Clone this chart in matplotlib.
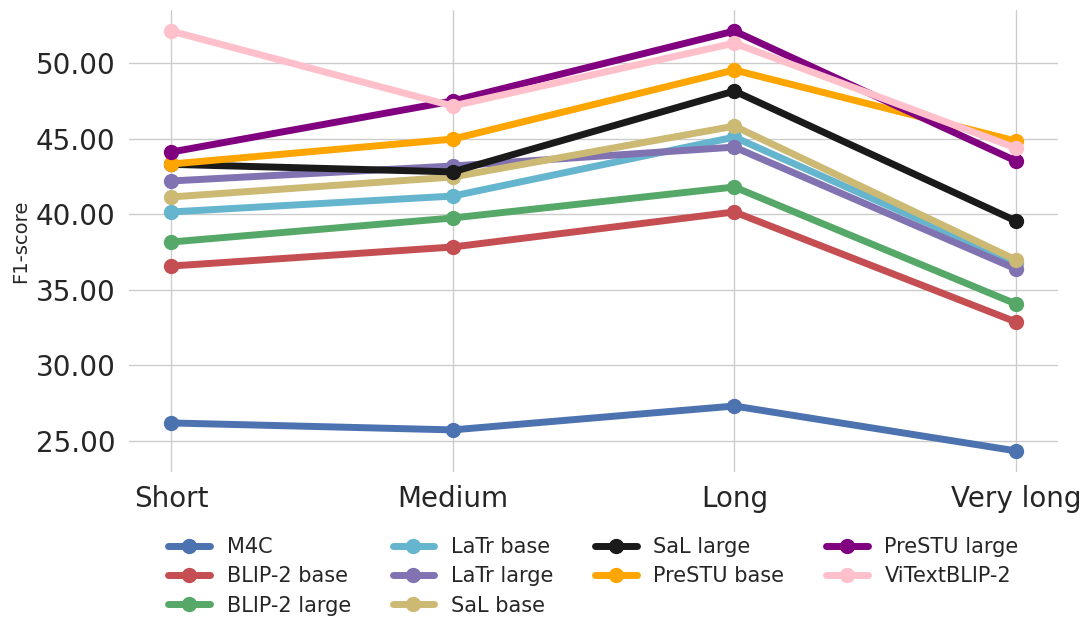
import matplotlib
matplotlib.use("Agg")
import matplotlib.pyplot as plt
import seaborn as sns
from matplotlib.ticker import FormatStrFormatter

categories = ["Short", "Medium", "Long", "Very long"]
models = ["M4C", "BLIP-2 base", "BLIP-2 large", "LaTr base", "LaTr large",
          "SaL base", "SaL large", "PreSTU base", "PreSTU large", "ViTextBLIP-2"]
m4c = [26.19, 25.73, 27.31, 24.34]
blip2_base = [36.57, 37.83, 40.15, 32.87]
blip2_large = [38.16, 39.75, 41.80, 34.06]
latr_base = [40.15, 41.20, 45.10, 36.80]
latr_large = [42.20, 43.19, 44.44, 36.38]
sal_base = [41.14, 42.46, 45.83, 36.97]
sal_large = [43.30, 42.80, 48.15, 39.55]
prestu_base = [43.32, 44.97, 49.54, 44.84]
prestu_large = [44.11, 47.49, 52.12, 43.52]
vitextblip2 = [52.12, 47.16, 51.32, 44.38]
series = [m4c, blip2_base, blip2_large, latr_base, latr_large,
          sal_base, sal_large, prestu_base, prestu_large, vitextblip2]
colors = ["#4C72B0", "#C44E52", "#55A868", "#64B5CD", "#8172B2",
          "#CCB974", "#1a1a1a", "orange", "purple", "pink"]

sns.set_theme(style="whitegrid")
fig = plt.figure(figsize=(10.91, 6.36), dpi=100)
ax = fig.add_axes([0.118, 0.258, 0.852, 0.726])
x = list(range(len(categories)))
for name, vals, c in zip(models, series, colors):
    ax.plot(x, vals, marker="o", color=c, linewidth=5, markersize=10, label=name)
ax.set_xticks(x)
ax.set_xticklabels(categories, fontsize=20)
ax.yaxis.set_major_formatter(FormatStrFormatter("%.2f"))
ax.set_yticks([25, 30, 35, 40, 45, 50])
ax.tick_params(axis="y", labelsize=20)
ax.set_ylim(22.95, 53.5)
ax.set_ylabel("F1-score", fontsize=14)
for s in ax.spines.values():
    s.set_visible(False)
ax.legend(loc="upper center", bbox_to_anchor=(0.5, -0.10), ncol=4, frameon=False,
          fontsize=15, handlelength=2, columnspacing=2.0, labelspacing=0.45)
fig.savefig("out.png", dpi=100)
